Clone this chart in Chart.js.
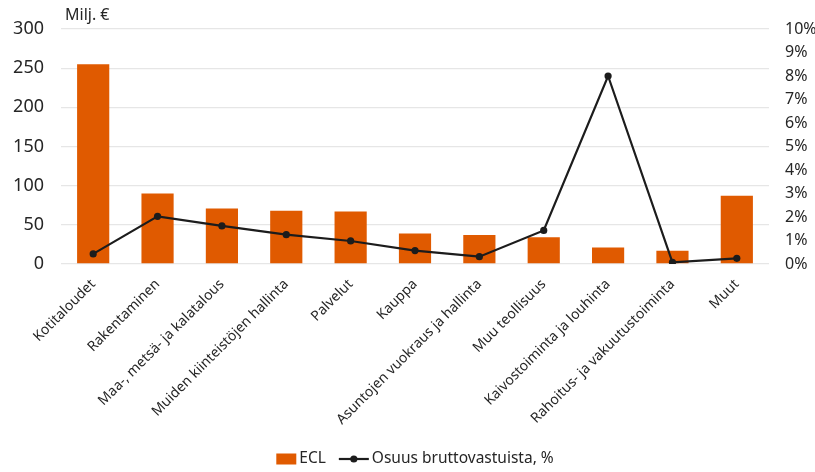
<!DOCTYPE html>
<html>
<head>
<meta charset="utf-8">
<script src="https://cdn.jsdelivr.net/npm/chart.js@4"></script>
<style>
  html, body { margin: 0; padding: 0; background: #fff; }
  #wrap { width: 815px; height: 472px; position: relative; }
</style>
</head>
<body>
<div id="wrap"><canvas id="c" width="815" height="472"></canvas></div>
<script>
// Toimialat
const categories = [
  'Kotitaloudet',
  'Rakentaminen',
  'Maa-, metsä- ja kalatalous',
  'Muiden kiinteistöjen hallinta',
  'Palvelut',
  'Kauppa',
  'Asuntojen vuokraus ja hallinta',
  'Muu teollisuus',
  'Kaivostoiminta ja louhinta',
  'Rahoitus- ja vakuutustoiminta',
  'Muut'
];
// ECL, milj. €
const eclValues = [255, 90, 71, 68, 67, 39, 37, 34, 21, 17, 87];
// Osuus bruttovastuista, %
const shareValues = [0.43, 2.03, 1.62, 1.25, 0.98, 0.57, 0.31, 1.43, 8.0, 0.07, 0.24];

const seriesNames = ['ECL', 'Osuus bruttovastuista, %'];
const unitLabel = 'Milj. €';

const ORANGE = '#E05A00';
const INK = '#1c1c1c';
const TEXT = '#262626';
const FONT = '"Noto Sans", "Open Sans", sans-serif';

// Unit label above the left axis and a compact legend under the category labels
const annotations = {
  id: 'annotations',
  afterDraw(chart) {
    const { ctx, chartArea } = chart;
    ctx.save();
    ctx.fillStyle = TEXT;
    ctx.textBaseline = 'middle';
    ctx.textAlign = 'left';
    ctx.font = '16px ' + FONT;
    ctx.fillText(unitLabel, chartArea.left + 4, 15);

    ctx.font = '15.5px ' + FONT;
    const w0 = ctx.measureText(seriesNames[0]).width;
    const w1 = ctx.measureText(seriesNames[1]).width;
    const boxW = 20, lineW = 30, gapSym = 3, gapItem = 13;
    const total = boxW + gapSym + w0 + gapItem + lineW + gapSym + w1;
    let x = (chartArea.left + chartArea.right) / 2 - total / 2;
    const y = 459;
    ctx.fillStyle = ORANGE;
    ctx.fillRect(x, y - 5.5, boxW, 11);
    x += boxW + gapSym;
    ctx.fillStyle = TEXT;
    ctx.fillText(seriesNames[0], x, y);
    x += w0 + gapItem;
    ctx.strokeStyle = INK; ctx.lineWidth = 2.2;
    ctx.beginPath(); ctx.moveTo(x, y); ctx.lineTo(x + lineW, y); ctx.stroke();
    ctx.fillStyle = INK;
    ctx.beginPath(); ctx.arc(x + lineW / 2, y, 3.6, 0, Math.PI * 2); ctx.fill();
    x += lineW + gapSym;
    ctx.fillStyle = TEXT;
    ctx.fillText(seriesNames[1], x, y);
    ctx.restore();
  }
};

new Chart(document.getElementById('c'), {
  data: {
    labels: categories,
    datasets: [
      {
        type: 'bar',
        label: seriesNames[0],
        data: eclValues,
        backgroundColor: ORANGE,
        yAxisID: 'y',
        categoryPercentage: 1.0,
        barPercentage: 0.5,
        order: 2
      },
      {
        type: 'line',
        label: seriesNames[1],
        data: shareValues,
        borderColor: INK,
        backgroundColor: INK,
        borderWidth: 2.2,
        pointRadius: 3.6,
        pointBackgroundColor: INK,
        pointBorderWidth: 0,
        tension: 0,
        yAxisID: 'y2',
        order: 1
      }
    ]
  },
  options: {
    responsive: false,
    animation: false,
    devicePixelRatio: 1,
    layout: { padding: { top: 29, left: 0, right: 0, bottom: 0 } },
    plugins: {
      tooltip: { enabled: false },
      legend: { display: false }
    },
    scales: {
      x: {
        grid: { display: false },
        border: { display: false },
        ticks: {
          autoSkip: false,
          maxRotation: 45,
          minRotation: 45,
          padding: 4,
          color: TEXT,
          font: { family: FONT, size: 14 }
        },
        afterFit(scale) { scale.height = 208; }
      },
      y: {
        position: 'left',
        min: 0, max: 300,
        ticks: {
          stepSize: 50,
          padding: 17,
          color: TEXT,
          font: { family: FONT, size: 18 }
        },
        grid: { color: '#e6e6e6', lineWidth: 1.3, drawTicks: false },
        border: { display: false },
        afterFit(scale) { scale.width = 61; }
      },
      y2: {
        position: 'right',
        min: 0, max: 10,
        ticks: {
          stepSize: 1,
          padding: 16,
          color: TEXT,
          font: { family: FONT, size: 16 },
          callback: v => v + '%'
        },
        grid: { display: false, drawTicks: false },
        border: { display: false },
        afterFit(scale) { scale.width = 46; }
      }
    }
  },
  plugins: [annotations]
});
</script>
</body>
</html>
